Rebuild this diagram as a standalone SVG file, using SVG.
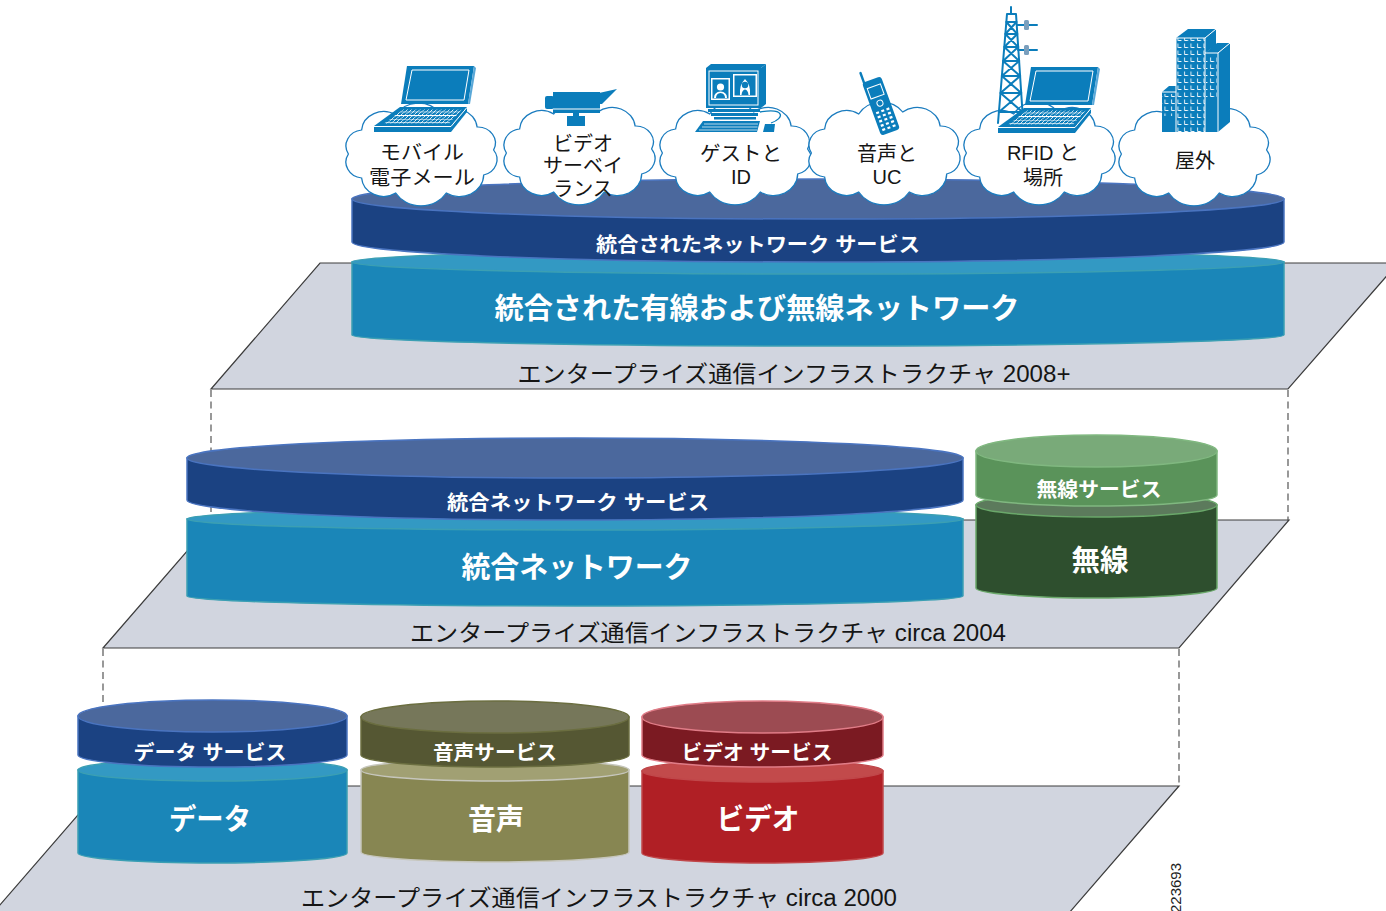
<svg xmlns="http://www.w3.org/2000/svg" width="1386" height="911" viewBox="0 0 1386 911">
  <defs>
    <style>
      .plane { fill: #d1d5df; stroke: #3c3c3c; stroke-width: 1.2; stroke-linejoin: miter; }
      .dash { fill: none; stroke: #555; stroke-width: 1.2; stroke-dasharray: 7 4.5; }
      .lbl { font-family: "Liberation Sans", "Noto Sans CJK JP", sans-serif; fill: #fff; font-weight: 700; text-anchor: middle; }
      .cap { font-family: "Liberation Sans", "Noto Sans CJK JP", sans-serif; fill: #151515; text-anchor: middle; }
      .navy-side { fill: #1b4282; stroke: #4a74c0; stroke-width: 1.5; }
      .navy-top { fill: #4b689d; stroke: #4a74c0; stroke-width: 1.5; }
      .teal-side { fill: #1a86b8; stroke: #3b9fb3; stroke-width: 1.5; }
      .teal-top { fill: #3399c3; stroke: #3b9fb3; stroke-width: 1.5; }
      .cloud { fill: #fff; stroke: #1b7cbf; stroke-width: 1.2; vector-effect: non-scaling-stroke; }
      .ic { fill: #0b7dbb; }
      .icw { fill: none; stroke: #fff; stroke-width: 1; }
      .ics { fill: none; stroke: #0b7dbb; stroke-width: 2; stroke-linecap: round; }
    </style>
    <!-- cloud outline, centred on 0,0 -->
    <path id="cloudShape" d="M-66,0 A16,16 0 0 1 -54,-24 A20,20 0 0 1 -23,-39 A24,24 0 0 1 17,-41 A21,21 0 0 1 51,-27 A16,16 0 0 1 66,-4 A16,16 0 0 1 57,21 A22,22 0 0 1 23,39 A27,27 0 0 1 -23,39 A20,20 0 0 1 -54,24 A16,16 0 0 1 -66,0 Z"/>
    <pattern id="keys" width="4.2" height="3.6" patternUnits="userSpaceOnUse" patternTransform="skewX(-50)">
      <rect width="4.2" height="3.6" fill="#0b7dbb"/>
      <path d="M0 0.4H4.2M0.4 0V3.6" stroke="#fff" stroke-width="0.8"/>
    </pattern>
    <pattern id="win" width="6.5" height="7" patternUnits="userSpaceOnUse">
      <rect width="6.5" height="7" fill="#0b7dbb"/>
      <path d="M1.5 1.5V5.5H5" fill="none" stroke="#fff" stroke-width="0.9"/>
    </pattern>
    <!-- notebook computer -->
    <g id="laptop">
      <polygon class="ic" points="407,66 474,66 468,104 401,104"/>
      <polygon points="474,66 476,68 470,104 468,104" fill="#5aa8d8"/>
      <polygon class="icw" stroke-width="1.3" points="412,70 469,70 464,100 406,100"/>
      <polygon class="ic" points="400,107 467,107 451,126 374,126"/>
      <polygon fill="url(#keys)" points="403,109.5 462,109.5 449,123.5 384,123.5"/>
      <polygon class="ic" points="374,126 451,126 451,132 374,132"/>
      <polygon class="ic" points="451,126 467,107 467,112 451,132"/>
      <path class="icw" d="M374,126.5H451L467,107.5"/>
    </g>
  </defs>

  <rect width="1386" height="911" fill="#fff"/>

  <!-- layer planes -->
  <g id="planes">
    <polygon class="plane" points="103,786 1179,786 1069,913 -7,913"/>
    <polygon class="plane" points="214,520 1289,520 1179,648 103,648"/>
    <polygon class="plane" points="320,263 1398,263 1288,389 211,389"/>
  </g>

  <!-- dashed links between layers -->
  <g id="connectors">
    <line class="dash" x1="211" y1="390" x2="211" y2="520"/>
    <line class="dash" x1="1288" y1="390" x2="1288" y2="520"/>
    <line class="dash" x1="103" y1="649" x2="103" y2="786"/>
    <line class="dash" x1="1179" y1="649" x2="1179" y2="786"/>
  </g>

  <!-- plane captions -->
  <g id="captions">
    <text class="cap" x="794" y="382" font-size="23" textLength="553" lengthAdjust="spacingAndGlyphs">エンタープライズ通信インフラストラクチャ 2008+</text>
    <text class="cap" x="708" y="641" font-size="23" textLength="596" lengthAdjust="spacingAndGlyphs">エンタープライズ通信インフラストラクチャ circa 2004</text>
    <text class="cap" x="599" y="906" font-size="23" textLength="596" lengthAdjust="spacingAndGlyphs">エンタープライズ通信インフラストラクチャ circa 2000</text>
  </g>

  <!-- 2000 layer -->
  <g id="data">
    <path class="teal-side" d="M78,770 V853 A134.5,10 0 0 0 347,853 V770 Z"/>
    <ellipse class="teal-top" cx="212.5" cy="770" rx="134.5" ry="11"/>
    <text class="lbl" x="210" y="830" font-size="29" textLength="82" lengthAdjust="spacingAndGlyphs">データ</text>
  </g>
  <g id="data-service">
    <path class="navy-side" d="M78,716 V755 A134.5,12 0 0 0 347,755 V716 Z"/>
    <ellipse class="navy-top" cx="212.5" cy="716" rx="134.5" ry="16"/>
    <text class="lbl" x="210" y="759.5" font-size="20" textLength="153" lengthAdjust="spacingAndGlyphs">データ サービス</text>
  </g>
  <g id="voice">
    <path d="M361,770 V852 A134,10 0 0 0 629,852 V770 Z" fill="#878652" stroke="#c6c6bc" stroke-width="1.5"/>
    <ellipse cx="495" cy="770" rx="134" ry="11" fill="#a1a073" stroke="#c6c6bc" stroke-width="1.5"/>
    <text class="lbl" x="496" y="830" font-size="29" textLength="56" lengthAdjust="spacingAndGlyphs">音声</text>
  </g>
  <g id="voice-service">
    <path d="M361,717 V755 A134,12 0 0 0 629,755 V717 Z" fill="#555733" stroke="#6b6e40" stroke-width="1.5"/>
    <ellipse cx="495" cy="717" rx="134" ry="16" fill="#76775a" stroke="#6b6e40" stroke-width="1.5"/>
    <text class="lbl" x="495" y="759.5" font-size="20" textLength="124" lengthAdjust="spacingAndGlyphs">音声サービス</text>
  </g>
  <g id="video">
    <path d="M642,771 V853 A120.5,10 0 0 0 883,853 V771 Z" fill="#b01f25" stroke="#c0474a" stroke-width="1.5"/>
    <ellipse cx="762.5" cy="771" rx="120.5" ry="11" fill="#c24a4b" stroke="#c0474a" stroke-width="1.5"/>
    <text class="lbl" x="758" y="830" font-size="29" textLength="83" lengthAdjust="spacingAndGlyphs">ビデオ</text>
  </g>
  <g id="video-service">
    <path d="M642,717 V755 A120.5,12 0 0 0 883,755 V717 Z" fill="#7b1a22" stroke="#e07c87" stroke-width="1.5"/>
    <ellipse cx="762.5" cy="717" rx="120.5" ry="16" fill="#9c4b52" stroke="#e07c87" stroke-width="1.5"/>
    <text class="lbl" x="757" y="759.5" font-size="20" textLength="151" lengthAdjust="spacingAndGlyphs">ビデオ サービス</text>
  </g>

  <!-- 2004 layer -->
  <g id="converged-network">
    <path class="teal-side" d="M187,519 V596 A388,10 0 0 0 963,596 V519 Z"/>
    <ellipse class="teal-top" cx="575" cy="519" rx="388" ry="11"/>
    <text class="lbl" x="577" y="578" font-size="29" textLength="231" lengthAdjust="spacingAndGlyphs">統合ネットワーク</text>
  </g>
  <g id="converged-service">
    <path class="navy-side" d="M187,458 V500 A388,20 0 0 0 963,500 V458 Z"/>
    <ellipse class="navy-top" cx="575" cy="458" rx="388" ry="20"/>
    <text class="lbl" x="578" y="509.5" font-size="20" textLength="262" lengthAdjust="spacingAndGlyphs">統合ネットワーク サービス</text>
  </g>
  <g id="wireless">
    <path d="M976,505 V588 A120.5,10 0 0 0 1217,588 V505 Z" fill="#2e4f2e" stroke="#6aa86a" stroke-width="1.5"/>
    <ellipse cx="1096.5" cy="505" rx="120.5" ry="12" fill="#5c7a5c" stroke="#6aa86a" stroke-width="1.5"/>
    <text class="lbl" x="1100" y="571" font-size="29" textLength="57" lengthAdjust="spacingAndGlyphs">無線</text>
  </g>
  <g id="wireless-service">
    <path d="M976,451 V495 A120.5,11 0 0 0 1217,495 V451 Z" fill="#5a935a" stroke="#80b880" stroke-width="1.5"/>
    <ellipse cx="1096.5" cy="451" rx="120.5" ry="16" fill="#79aa79" stroke="#80b880" stroke-width="1.5"/>
    <text class="lbl" x="1099" y="496.5" font-size="20" textLength="125" lengthAdjust="spacingAndGlyphs">無線サービス</text>
  </g>

  <!-- 2008+ layer -->
  <g id="unified-network">
    <path class="teal-side" d="M352,262 V335 A466,11 0 0 0 1284,335 V262 Z"/>
    <ellipse class="teal-top" cx="818" cy="262" rx="466" ry="12"/>
    <text class="lbl" x="757" y="319" font-size="29" textLength="525" lengthAdjust="spacingAndGlyphs">統合された有線および無線ネットワーク</text>
  </g>
  <g id="unified-service">
    <path class="navy-side" d="M352,199 V242 A466,20 0 0 0 1284,242 V199 Z"/>
    <ellipse class="navy-top" cx="818" cy="199" rx="466" ry="20"/>
    <text class="lbl" x="758" y="251.5" font-size="20" textLength="324" lengthAdjust="spacingAndGlyphs">統合されたネットワーク サービス</text>
  </g>

  <!-- service clouds -->
  <g id="cloud-mobile">
    <use href="#cloudShape" class="cloud" transform="translate(421,154) scale(1.1,1)"/>
    <text class="cap" x="422" y="159.5" font-size="20" textLength="84" lengthAdjust="spacingAndGlyphs">モバイル</text>
    <text class="cap" x="422" y="184.5" font-size="20" textLength="106" lengthAdjust="spacingAndGlyphs">電子メール</text>
    <use href="#laptop"/>
  </g>
  <g id="cloud-surveillance">
    <use href="#cloudShape" class="cloud" transform="translate(579,153) scale(1.1,1)"/>
    <text class="cap" x="583" y="150.5" font-size="20">ビデオ</text>
    <text class="cap" x="583" y="172.5" font-size="20">サーベイ</text>
    <text class="cap" x="583" y="195.5" font-size="20">ランス</text>
    <g id="camera">
      <rect class="ic" x="545" y="96" width="9" height="13" rx="2"/>
      <rect class="ic" x="553" y="92" width="47" height="21"/>
      <line x1="553" y1="109" x2="600" y2="109" stroke="#fff" stroke-width="1"/>
      <polygon class="ic" points="599,93 617,89 602,104 599,104"/>
      <rect class="ic" x="573" y="113" width="6" height="3"/>
      <rect class="ic" x="567" y="116" width="18" height="10"/>
    </g>
  </g>
  <g id="cloud-guest">
    <use href="#cloudShape" class="cloud" transform="translate(735,153) scale(1.1,1)"/>
    <text class="cap" x="741" y="160.5" font-size="20" textLength="82" lengthAdjust="spacingAndGlyphs">ゲストと</text>
    <text class="cap" x="741" y="184" font-size="20">ID</text>
    <g id="workstation">
      <polygon class="ic" points="706,68 711,64 766,64 761,68"/>
      <polygon class="ic" points="761,68 766,64 766,104 761,108"/>
      <rect class="ic" x="706" y="68" width="55" height="40"/>
      <rect class="icw" x="709" y="71" width="49" height="34"/>
      <rect x="711" y="78" width="19" height="22" fill="#fff"/>
      <rect class="ic" x="712.5" y="79.5" width="16" height="19"/>
      <circle cx="720.5" cy="87" r="3.6" fill="#fff"/>
      <path d="M714,98 Q714,92 720.5,91.5 Q727,92 727,98 Z" fill="#fff"/>
      <path d="M716,98 Q716,93.5 720.5,93 Q725,93.5 725,98 Z" fill="#0b7dbb"/>
      <rect x="733" y="74" width="24" height="23" fill="#fff"/>
      <rect class="ic" x="734.5" y="75.5" width="21" height="20"/>
      <path d="M740,95 Q739,85 745,79 Q751,85 750,95 Z" fill="#fff"/>
      <circle cx="745" cy="85" r="3.2" fill="#0b7dbb"/>
      <path d="M741.5,95 Q742,90 745,89.5 Q748,90 748.5,95 Z" fill="#0b7dbb"/>
      <rect class="ic" x="708" y="109" width="52" height="3"/>
      <rect class="ic" x="711" y="113" width="47" height="3"/>
      <rect class="ic" x="714" y="117" width="42" height="2.5"/>
      <polygon class="ic" points="703,121 760,121 757,132 695,132"/>
      <path d="M704,124H758M702,127H757.5M699,130H757" stroke="#fff" stroke-width="0.7"/>
      <path d="M760,112 C785,108 785,118 771,123" fill="none" stroke="#0b7dbb" stroke-width="1.3"/>
      <polygon class="ic" points="765,124 775,124 774,132 763,132"/>
    </g>
  </g>
  <g id="cloud-voice">
    <use href="#cloudShape" class="cloud" transform="translate(884,153) scale(1.1,1)"/>
    <text class="cap" x="887" y="160.5" font-size="20">音声と</text>
    <text class="cap" x="887" y="184" font-size="20">UC</text>
    <g id="handset" transform="rotate(-20 881 106)">
      <line x1="873" y1="79" x2="873" y2="68" stroke="#0b7dbb" stroke-width="2.4" stroke-linecap="round"/>
      <rect class="ic" x="871" y="78" width="20" height="56" rx="3"/>
      <rect class="icw" x="874" y="85" width="14" height="11"/>
      <circle class="icw" cx="881" cy="103" r="3"/>
      <g fill="#fff">
        <rect x="874" y="110" width="3" height="2.2"/><rect x="879.5" y="110" width="3" height="2.2"/><rect x="885" y="110" width="3" height="2.2"/>
        <rect x="874" y="114.5" width="3" height="2.2"/><rect x="879.5" y="114.5" width="3" height="2.2"/><rect x="885" y="114.5" width="3" height="2.2"/>
        <rect x="874" y="119" width="3" height="2.2"/><rect x="879.5" y="119" width="3" height="2.2"/><rect x="885" y="119" width="3" height="2.2"/>
        <rect x="874" y="123.5" width="3" height="2.2"/><rect x="879.5" y="123.5" width="3" height="2.2"/><rect x="885" y="123.5" width="3" height="2.2"/>
        <rect x="874" y="128" width="3" height="2.2"/><rect x="879.5" y="128" width="3" height="2.2"/><rect x="885" y="128" width="3" height="2.2"/>
      </g>
    </g>
  </g>
  <g id="cloud-rfid">
    <use href="#cloudShape" class="cloud" transform="translate(1039,153) scale(1.1,1)"/>
    <text class="cap" x="1043" y="160" font-size="20">RFID と</text>
    <text class="cap" x="1043" y="184.5" font-size="20">場所</text>
    <g id="tower">
      <line class="ics" x1="1011" y1="7" x2="1011" y2="14"/>
      <path class="ics" d="M1007,14 L998,123 M1016,14 L1023,120 M1007,14 H1016"/>
      <path class="ics" stroke-width="1.5" d="M1006.3,22H1016.5 M1005.3,34H1017.3 M1004.3,47H1018.2 M1003.1,61H1019.1 M1001.9,76H1020.1 M1000.5,93H1021.2 M998.9,112H1022.5
        M1006.3,22L1017.3,34 M1016.5,22L1005.3,34
        M1005.3,34L1018.2,47 M1017.3,34L1004.3,47
        M1004.3,47L1019.1,61 M1018.2,47L1003.1,61
        M1003.1,61L1020.1,76 M1019.1,61L1001.9,76
        M1001.9,76L1021.2,93 M1020.1,76L1000.5,93
        M1000.5,93L1022.5,112 M1021.2,93L998.9,112"/>
      <path class="ics" stroke-width="1.8" d="M1017,25H1037 M1018,50H1037"/>
      <rect x="1024" y="20" width="5" height="10" rx="1.5" fill="#7b9fbd"/>
      <rect x="1024" y="45" width="5" height="10" rx="1.5" fill="#7b9fbd"/>
    </g>
    <use href="#laptop" transform="translate(624,1)"/>
  </g>
  <g id="cloud-outdoor">
    <use href="#cloudShape" class="cloud" transform="translate(1194,154) scale(1.1,1)"/>
    <text class="cap" x="1195" y="167.5" font-size="20">屋外</text>
    <g id="buildings">
      <polygon class="ic" points="1176,38 1188,29 1216,29 1205,38"/>
      <polygon class="ic" points="1205,38 1216,29 1216,45 1205,53"/>
      <rect x="1176" y="38" width="29" height="94" fill="url(#win)"/>
      <polygon class="ic" points="1205,53 1217,43 1230,43 1218,53"/>
      <polygon class="ic" points="1218,53 1230,43 1230,122 1218,132"/>
      <rect x="1205" y="53" width="13" height="79" fill="#0b7dbb"/>
      <rect x="1206" y="55" width="11" height="42" fill="url(#win)"/>
      <polygon class="ic" points="1162,92 1169,86 1176,86 1176,92"/>
      <rect x="1162" y="92" width="14" height="40" fill="#0b7dbb"/>
      <rect x="1162" y="94" width="13" height="22" fill="url(#win)"/>
      <path class="icw" d="M1176,38H1205L1216,29 M1205,38V132 M1205,53H1218L1230,43 M1218,53V132 M1162,92H1176 M1176,38V132"/>
    </g>
  </g>

  <text x="1181" y="913" font-family="Liberation Sans, sans-serif" font-size="15" fill="#222" transform="rotate(-90 1181 913)">223693</text>
</svg>
